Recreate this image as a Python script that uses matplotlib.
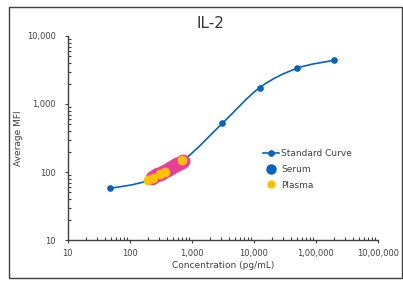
import numpy as np
import matplotlib
matplotlib.use("Agg")
import matplotlib.pyplot as plt
from matplotlib.path import Path
from matplotlib.patches import PathPatch, Rectangle
from matplotlib.lines import Line2D
from matplotlib.ticker import FixedLocator, LogLocator, NullFormatter

# ---- data ----
std_conc = [48.8, 195, 781, 3125, 12500, 50000, 200000]
std_mfi = [57.5, 75, 156, 520, 1740, 3350, 4400]

serum_conc = [225, 240, 255, 270, 290, 310, 330, 350, 375, 400, 425, 450, 480, 510, 540, 570, 600, 640, 690, 720]
serum_mfi = [81, 83.5, 86, 89, 92, 95, 98, 101, 105, 108, 111, 114, 118, 121, 125, 129, 132, 136, 142, 147]

plasma_conc = [200, 241, 309, 372, 695]
plasma_mfi = [76, 82.4, 92.5, 101, 150]

xtick_vals = [10, 100, 1000, 10000, 100000, 1000000]
xtick_labels = ["10", "100", "1,000", "10,000", "1,00,000", "10,00,000"]
ytick_vals = [10, 100, 1000, 10000]
ytick_labels = ["10", "100", "1,000", "10,000"]

BLUE = "#0563C1"
PINK = "#E8409A"
YELLOW = "#FFC000"
TXT = "#404040"

plt.rcParams['font.family'] = ['DejaVu Sans']

W, H = 403, 286
fig = plt.figure(figsize=(W / 100, H / 100), dpi=100)
fig.patches.append(Rectangle((9.3 / W, 1 - 278 / H), (402 - 9.3) / W, (278 - 6.7) / H,
                             transform=fig.transFigure, fill=False, edgecolor="#404040", lw=1.0))

ax = fig.add_axes([67.7 / W, 1 - 240 / H, (377.7 - 67.7) / W, (240 - 36) / H])
ax.set_xscale("log")
ax.set_yscale("log")
ax.set_xlim(10, 1e6)
ax.set_ylim(10, 1e4)

# Excel-like smoothed curve (Catmull-Rom Bezier in log space)
lx = np.log10(std_conc)
ly = np.log10(std_mfi)
P = np.column_stack([lx, ly])
n = len(P)
verts = [P[0]]
codes = [Path.MOVETO]
for i in range(n - 1):
    p0 = P[i - 1] if i > 0 else P[i]
    p1 = P[i]
    p2 = P[i + 1]
    p3 = P[i + 2] if i + 2 < n else P[i + 1]
    c1 = p1 + (p2 - p0) / 6
    c2 = p2 - (p3 - p1) / 6
    verts += [c1, c2, p2]
    codes += [Path.CURVE4] * 3
verts = 10 ** np.array(verts)
ax.add_patch(PathPatch(Path(verts, codes), facecolor="none", edgecolor=BLUE, lw=1.2, zorder=2))
ax.plot(std_conc, std_mfi, linestyle="none", marker="o", markersize=3.8, color=BLUE, zorder=3)

# serum (pink) and plasma (yellow)
ax.plot(serum_conc, serum_mfi, linestyle="none", marker="o", markersize=9, color=PINK, zorder=4)
ax.plot(plasma_conc, plasma_mfi, linestyle="none", marker="o", markersize=6, color=YELLOW, zorder=5)

for s in ["top", "right"]:
    ax.spines[s].set_visible(False)
for s in ["left", "bottom"]:
    ax.spines[s].set_color("#404040")
    ax.spines[s].set_linewidth(1.0)

ax.xaxis.set_major_locator(FixedLocator(xtick_vals))
ax.set_xticklabels(xtick_labels)
ax.yaxis.set_major_locator(FixedLocator(ytick_vals))
ax.set_yticklabels(ytick_labels)
ax.xaxis.set_minor_locator(LogLocator(base=10, subs=np.arange(2, 10)))
ax.yaxis.set_minor_locator(LogLocator(base=10, subs=np.arange(2, 10)))
ax.xaxis.set_minor_formatter(NullFormatter())
ax.yaxis.set_minor_formatter(NullFormatter())
ax.tick_params(which="major", direction="out", length=2.5, width=0.8, color="#404040",
               labelsize=6, labelcolor=TXT)
ax.tick_params(axis="x", which="major", pad=4)
ax.tick_params(axis="y", which="major", pad=6)
ax.tick_params(which="minor", direction="in", length=2, width=0.8, color="#404040")

ax.set_xlabel("Concentration (pg/mL)", fontsize=6.5, color=TXT, labelpad=2)
ax.set_ylabel("Average MFI", fontsize=6.5, color=TXT, labelpad=3)

fig.text(210 / W, 1 - 23 / H, "IL-2", fontsize=11, color="#333333", ha="center", va="center")

handles = [
    Line2D([0], [0], color=BLUE, lw=1.2, marker="o", markersize=3.8),
    Line2D([0], [0], color=BLUE, lw=0, marker="o", markersize=6.5),
    Line2D([0], [0], color=YELLOW, lw=0, marker="o", markersize=5),
]
leg = fig.legend(handles, ["Standard Curve", "Serum", "Plasma"], loc="upper left",
                 bbox_to_anchor=(263 / W, 1 - 149 / H), frameon=False, fontsize=6.5,
                 labelcolor=TXT, handlelength=1.8, handletextpad=0.2, labelspacing=0.75,
                 borderpad=0, borderaxespad=0)

fig.savefig("out.png", dpi=100)
